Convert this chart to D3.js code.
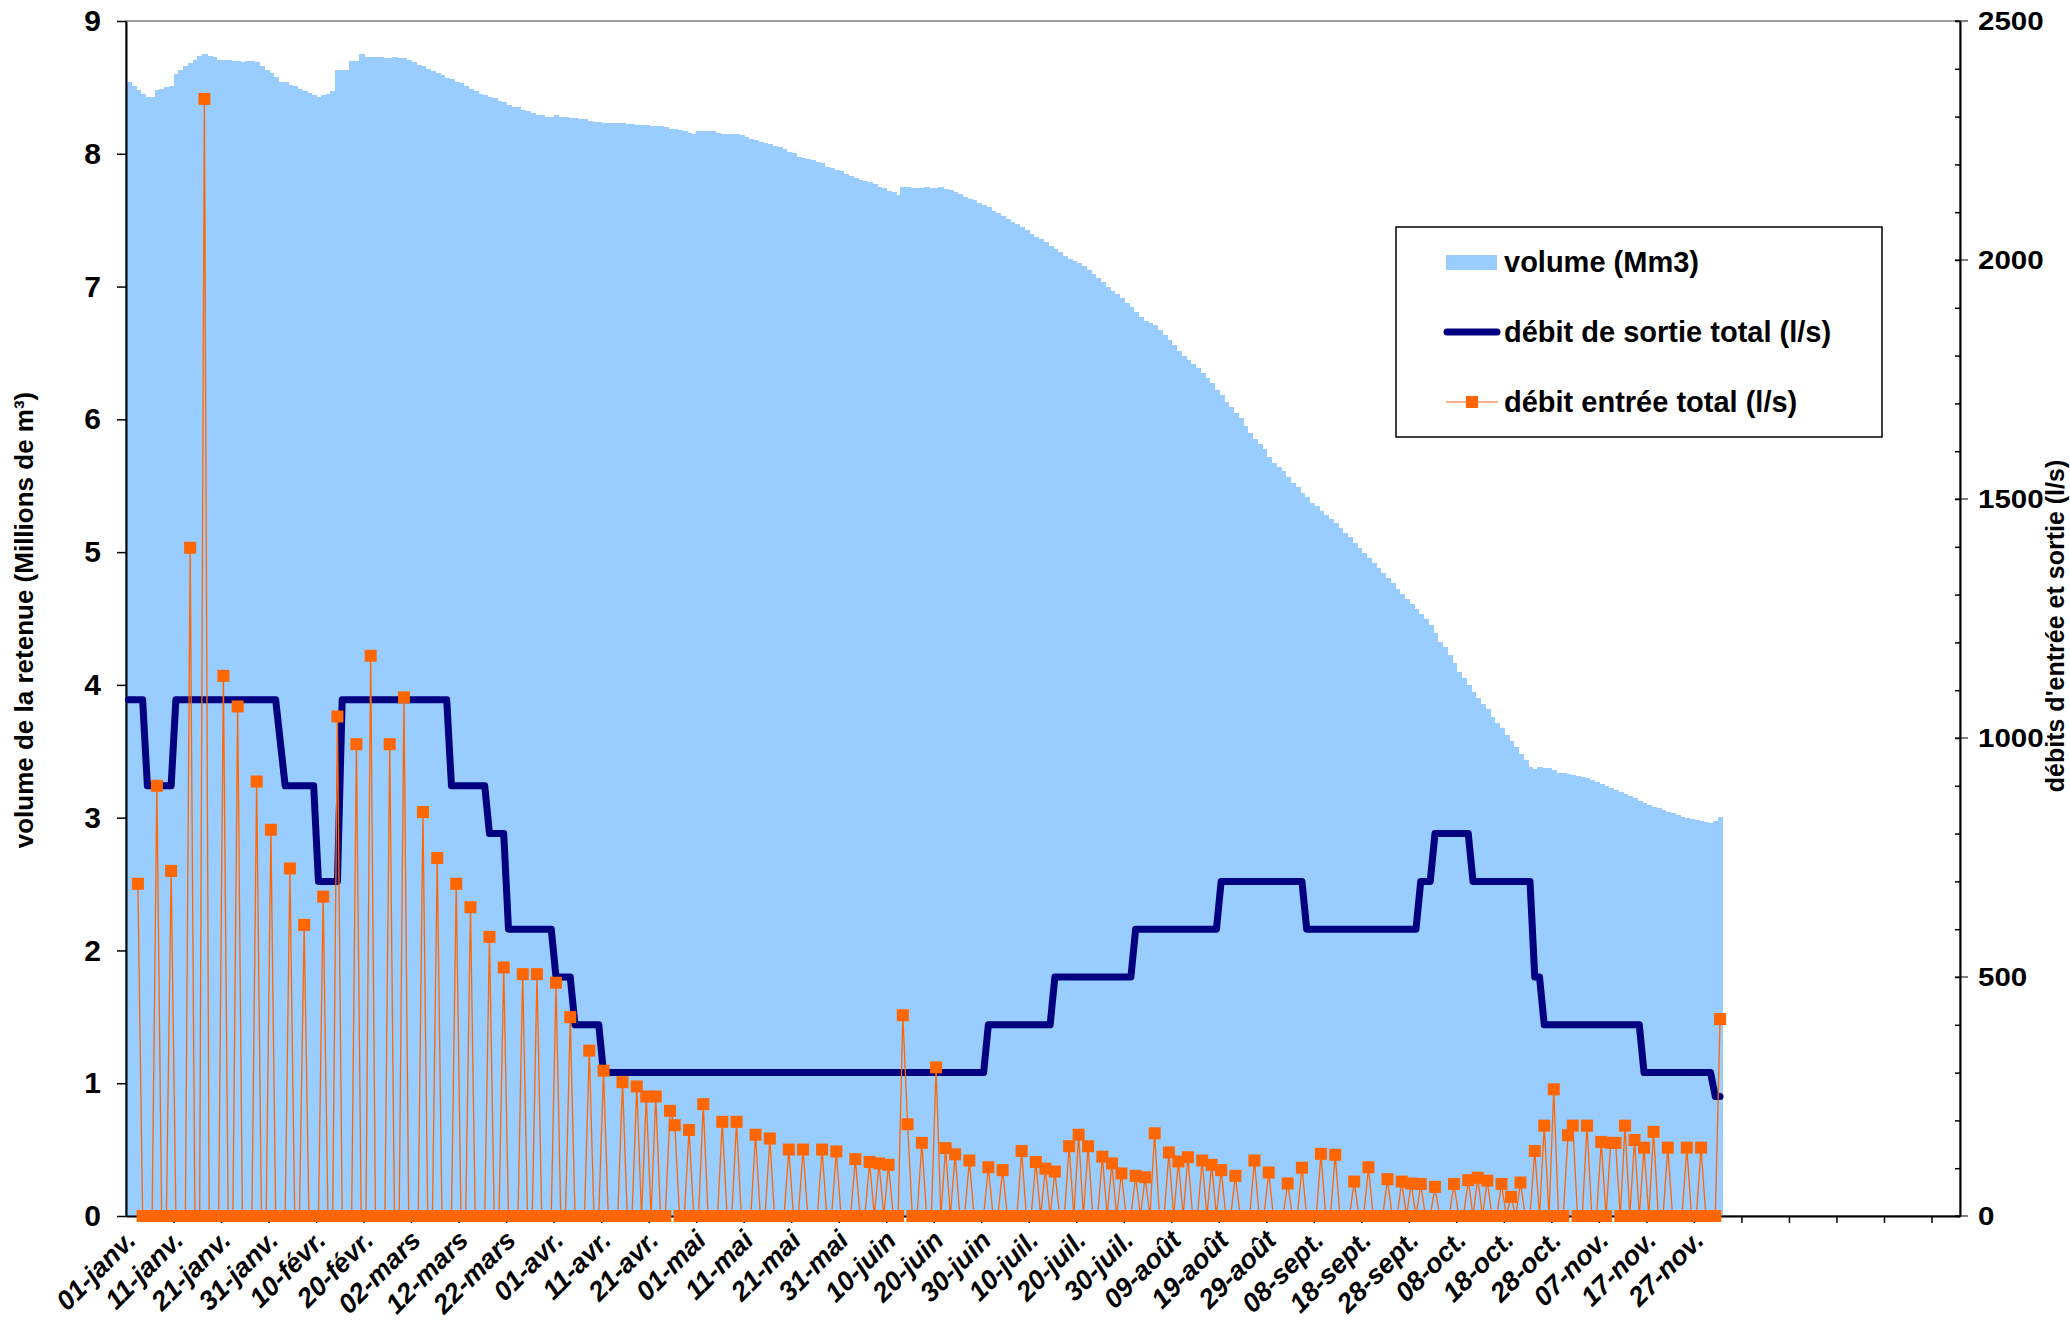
<!DOCTYPE html>
<html>
<head>
<meta charset="utf-8">
<script src="https://cdn.jsdelivr.net/npm/d3@7"></script>
<style>
  body { margin: 0; background: #fff; }
  text { font-family: "Liberation Sans", Arial, sans-serif; font-weight: bold; fill: #000; }
</style>
</head>
<body>
<div id="chart"></div>
<script>
// Category axis: one slot per day, labels every 10 days
const DAY_COUNT = 386;
const TICK_LABELS = ["01-janv.", "11-janv.", "21-janv.", "31-janv.", "10-févr.", "20-févr.", "02-mars", "12-mars",
    "22-mars", "01-avr.", "11-avr.", "21-avr.", "01-mai", "11-mai", "21-mai", "31-mai", "10-juin", "20-juin",
    "30-juin", "10-juil.", "20-juil.", "30-juil.", "09-août", "19-août", "29-août", "08-sept.", "18-sept.",
    "28-sept.", "08-oct.", "18-oct.", "28-oct.", "07-nov.", "17-nov.", "27-nov."];
const LEFT_TICKS = [0, 1, 2, 3, 4, 5, 6, 7, 8, 9];
const RIGHT_MAJOR_TICKS = [0, 500, 1000, 1500, 2000, 2500];

// volume (Mm3), one value per day
const VOLUME = [
    8.54, 8.51, 8.48, 8.45, 8.43, 8.43, 8.48, 8.49, 8.50, 8.51,
    8.60, 8.63, 8.66, 8.68, 8.71, 8.74, 8.75, 8.74, 8.73, 8.71,
    8.71, 8.71, 8.70, 8.70, 8.69, 8.70, 8.70, 8.69, 8.66, 8.63,
    8.61, 8.58, 8.54, 8.54, 8.52, 8.51, 8.49, 8.47, 8.46, 8.44,
    8.43, 8.44, 8.45, 8.47, 8.63, 8.63, 8.63, 8.70, 8.70, 8.75,
    8.73, 8.73, 8.73, 8.73, 8.72, 8.72, 8.73, 8.72, 8.72, 8.71,
    8.69, 8.67, 8.66, 8.64, 8.62, 8.61, 8.59, 8.57, 8.56, 8.54,
    8.53, 8.51, 8.49, 8.47, 8.45, 8.44, 8.43, 8.42, 8.40, 8.39,
    8.37, 8.35, 8.35, 8.33, 8.32, 8.31, 8.29, 8.29, 8.28, 8.28,
    8.29, 8.28, 8.28, 8.27, 8.27, 8.26, 8.26, 8.25, 8.24, 8.24,
    8.234, 8.234, 8.234, 8.23, 8.23, 8.224, 8.224, 8.22, 8.22, 8.22,
    8.21, 8.21, 8.21, 8.20, 8.19, 8.185, 8.18, 8.17, 8.16, 8.15,
    8.17, 8.17, 8.17, 8.17, 8.16, 8.15, 8.15, 8.15, 8.15, 8.139,
    8.127, 8.114, 8.104, 8.091, 8.081, 8.071, 8.058, 8.048, 8.033, 8.016,
    8.003, 7.978, 7.970, 7.960, 7.953, 7.935, 7.928, 7.903, 7.890, 7.878,
    7.870, 7.848, 7.833, 7.815, 7.803, 7.795, 7.785, 7.773, 7.753, 7.740,
    7.723, 7.710, 7.690, 7.748, 7.748, 7.743, 7.743, 7.743, 7.750, 7.743,
    7.743, 7.748, 7.738, 7.728, 7.715, 7.695, 7.677, 7.660, 7.652, 7.632,
    7.614, 7.602, 7.572, 7.552, 7.532, 7.512, 7.489, 7.471, 7.451, 7.426,
    7.396, 7.376, 7.356, 7.336, 7.306, 7.286, 7.260, 7.230, 7.208, 7.193,
    7.175, 7.155, 7.125, 7.095, 7.063, 7.037, 7.000, 6.970, 6.945, 6.912,
    6.874, 6.844, 6.812, 6.774, 6.737, 6.724, 6.707, 6.674, 6.637, 6.599,
    6.562, 6.512, 6.474, 6.444, 6.419, 6.386, 6.346, 6.309, 6.271, 6.221,
    6.183, 6.133, 6.090, 6.045, 6.008, 5.950, 5.895, 5.850, 5.814, 5.774,
    5.714, 5.674, 5.643, 5.613, 5.568, 5.518, 5.488, 5.448, 5.418, 5.373,
    5.348, 5.312, 5.280, 5.247, 5.217, 5.179, 5.147, 5.111, 5.071, 5.029,
    4.991, 4.953, 4.916, 4.878, 4.845, 4.803, 4.765, 4.720, 4.685, 4.645,
    4.609, 4.569, 4.534, 4.494, 4.451, 4.389, 4.326, 4.288, 4.225, 4.168,
    4.100, 4.050, 4.000, 3.949, 3.899, 3.856, 3.816, 3.761, 3.710, 3.673,
    3.622, 3.580, 3.535, 3.479, 3.434, 3.384, 3.364, 3.384, 3.376, 3.371,
    3.358, 3.338, 3.333, 3.328, 3.321, 3.313, 3.303, 3.295, 3.283, 3.270,
    3.253, 3.238, 3.220, 3.208, 3.190, 3.175, 3.163, 3.145, 3.128, 3.108,
    3.095, 3.082, 3.070, 3.057, 3.045, 3.032, 3.020, 3.007, 2.995, 2.987,
    2.982, 2.975, 2.967, 2.962, 2.977, 3.007
];

// débit de sortie total (l/s), one value per day
const OUTFLOW = [
    1080, 1080, 1080, 1080, 900, 900, 900, 900, 900, 900,
    1080, 1080, 1080, 1080, 1080, 1080, 1080, 1080, 1080, 1080,
    1080, 1080, 1080, 1080, 1080, 1080, 1080, 1080, 1080, 1080,
    1080, 1080, 990, 900, 900, 900, 900, 900, 900, 900,
    700, 700, 700, 700, 700, 1080, 1080, 1080, 1080, 1080,
    1080, 1080, 1080, 1080, 1080, 1080, 1080, 1080, 1080, 1080,
    1080, 1080, 1080, 1080, 1080, 1080, 1080, 1080, 900, 900,
    900, 900, 900, 900, 900, 900, 800, 800, 800, 800,
    600, 600, 600, 600, 600, 600, 600, 600, 600, 600,
    500, 500, 500, 500, 400, 400, 400, 400, 400, 400,
    300, 300, 300, 300, 300, 300, 300, 300, 300, 300,
    300, 300, 300, 300, 300, 300, 300, 300, 300, 300,
    300, 300, 300, 300, 300, 300, 300, 300, 300, 300,
    300, 300, 300, 300, 300, 300, 300, 300, 300, 300,
    300, 300, 300, 300, 300, 300, 300, 300, 300, 300,
    300, 300, 300, 300, 300, 300, 300, 300, 300, 300,
    300, 300, 300, 300, 300, 300, 300, 300, 300, 300,
    300, 300, 300, 300, 300, 300, 300, 300, 300, 300,
    300, 400, 400, 400, 400, 400, 400, 400, 400, 400,
    400, 400, 400, 400, 400, 500, 500, 500, 500, 500,
    500, 500, 500, 500, 500, 500, 500, 500, 500, 500,
    500, 500, 600, 600, 600, 600, 600, 600, 600, 600,
    600, 600, 600, 600, 600, 600, 600, 600, 600, 600,
    700, 700, 700, 700, 700, 700, 700, 700, 700, 700,
    700, 700, 700, 700, 700, 700, 700, 700, 600, 600,
    600, 600, 600, 600, 600, 600, 600, 600, 600, 600,
    600, 600, 600, 600, 600, 600, 600, 600, 600, 600,
    600, 600, 700, 700, 700, 800, 800, 800, 800, 800,
    800, 800, 800, 700, 700, 700, 700, 700, 700, 700,
    700, 700, 700, 700, 700, 700, 500, 500, 400, 400,
    400, 400, 400, 400, 400, 400, 400, 400, 400, 400,
    400, 400, 400, 400, 400, 400, 400, 400, 400, 300,
    300, 300, 300, 300, 300, 300, 300, 300, 300, 300,
    300, 300, 300, 300, 250, 250
];

// débit entrée total (l/s), one value per day (null = no reading)
const INFLOW = [
    null, null, 695, 0, 0, 0, 900, 0, 0, 722,
    0, 0, 0, 1398, 0, 0, 2337, 0, 0, 0,
    1130, 0, 0, 1066, 0, 0, 0, 909, 0, 0,
    808, 0, 0, 0, 727, 0, 0, 609, 0, 0,
    0, 668, 0, 0, 1045, 0, 0, 0, 987, 0,
    0, 1172, 0, 0, 0, 987, 0, 0, 1085, 0,
    0, 0, 845, 0, 0, 749, 0, 0, 0, 695,
    0, 0, 646, 0, 0, 0, 584, 0, 0, 520,
    0, 0, 0, 506, 0, 0, 506, 0, 0, 0,
    488, 0, 0, 416, 0, 0, 0, 346, 0, 0,
    304, 0, 0, 0, 280, 0, 0, 271, 0, 250,
    0, 250, 0, 0, 220, 190, 0, 0, 180, 0,
    0, 234, 0, 0, 0, 197, 0, 0, 197, 0,
    0, 0, 170, 0, 0, 162, 0, 0, 0, 139,
    0, 0, 139, 0, 0, 0, 139, 0, 0, 135,
    0, 0, 0, 119, 0, 0, 113, 0, 110, 0,
    107, 0, 0, 420, 192, 0, 0, 153, 0, 0,
    311, 0, 142, 0, 129, 0, 0, 116, 0, 0,
    0, 102, 0, 0, 96, 0, 0, 0, 136, 0,
    0, 113, 0, 99, 0, 93, 0, 0, 146, 0,
    170, 0, 146, 0, 0, 124, 0, 110, 0, 89,
    0, 0, 84, 0, 81, 0, 173, 0, 0, 133,
    0, 114, 0, 123, 0, 0, 116, 0, 107, 0,
    96, 0, 0, 84, 0, 0, 0, 116, 0, 0,
    91, 0, 0, 0, 68, 0, 0, 101, 0, 0,
    0, 130, 0, 0, 128, 0, 0, 0, 72, 0,
    0, 102, 0, 0, 0, 77, 0, 0, 72, 0,
    68, 0, 67, 0, 0, 61, 0, 0, 0, 67,
    0, 0, 75, 0, 80, 0, 74, 0, 0, 67,
    0, 40, 0, 70, 0, 0, 136, 0, 189, 0,
    265, 0, 0, 169, 189, 0, 0, 189, 0, 0,
    155, 0, 153, 153, 0, 189, 0, 159, 0, 143,
    0, 176, 0, 0, 143, 0, 0, 0, 143, 0,
    0, 143, 0, 0, 0, 412
];

const LEGEND_LABELS = ["volume (Mm3)", "débit de sortie total (l/s)", "débit entrée total (l/s)"];

const width = 2070, height = 1322;
const margin = {top: 21, right: 110, bottom: 106, left: 126};
const innerW = width - margin.left - margin.right;
const innerH = height - margin.top - margin.bottom;

const svg = d3.select('#chart').append('svg')
    .attr('width', width)
    .attr('height', height);

svg.append('rect').attr('width', width).attr('height', height).attr('fill', '#fff');

const g = svg.append('g')
    .attr('transform', `translate(${margin.left},${margin.top})`);

// Scales
const x = d3.scaleBand().domain(d3.range(DAY_COUNT)).range([0, innerW]).padding(0);
const xEdge = d3.scaleLinear().domain([0, DAY_COUNT]).range([0, innerW]);
const yLeft = d3.scaleLinear().domain([0, 9]).range([innerH, 0]);
const yRight = d3.scaleLinear().domain([0, 2500]).range([innerH, 0]);
const cx = i => x(i) + x.bandwidth() / 2;

// Plot frame
g.append('rect')
    .attr('width', innerW)
    .attr('height', innerH)
    .attr('fill', 'none')
    .attr('stroke', '#808080')
    .attr('stroke-width', 1.5);

// Volume bars
g.append('g').selectAll('rect')
    .data(VOLUME)
    .join('rect')
    .attr('x', (d, i) => x(i))
    .attr('width', x.bandwidth() + 1)
    .attr('y', d => yLeft(d))
    .attr('height', d => innerH - yLeft(d))
    .attr('fill', '#99CCFF')
    .attr('shape-rendering', 'crispEdges');

// Left axis
const leftAxis = g.append('g')
    .call(d3.axisLeft(yLeft).tickValues(LEFT_TICKS).tickSize(9).tickSizeOuter(0).tickPadding(16));
leftAxis.selectAll('text').style('font-size', '30px');

// Bottom axis: ticks between every 10 days
const bottomAxis = g.append('g')
    .attr('transform', `translate(0,${innerH})`)
    .call(d3.axisBottom(xEdge).tickValues(d3.range(10, DAY_COUNT, 10)).tickSize(7).tickSizeOuter(0).tickFormat(''));

g.append('g').selectAll('text')
    .data(TICK_LABELS)
    .join('text')
    .attr('transform', (d, i) => `translate(${cx(i * 10) + 9},${innerH + 26}) rotate(-45)`)
    .attr('text-anchor', 'end')
    .style('font-style', 'italic')
    .style('font-size', '27px')
    .text(d => d);

// Right axis: minor ticks inside, major ticks crossing
const rightAxis = g.append('g')
    .attr('transform', `translate(${innerW},0)`)
    .call(d3.axisRight(yRight).tickValues(d3.range(0, 2501, 100)).tickSizeInner(-5).tickSizeOuter(0).tickFormat(''));

rightAxis.selectAll('.major')
    .data(RIGHT_MAJOR_TICKS)
    .join('line')
    .attr('class', 'major')
    .attr('x1', -5).attr('x2', 8)
    .attr('y1', d => yRight(d)).attr('y2', d => yRight(d))
    .attr('stroke', '#000');

rightAxis.selectAll('.rlabel')
    .data(RIGHT_MAJOR_TICKS)
    .join('text')
    .attr('class', 'rlabel')
    .attr('transform', d => `translate(18,${yRight(d)}) scale(1.18,1)`)
    .attr('dy', '0.36em')
    .style('font-size', '25px')
    .text(d => d);

[leftAxis, bottomAxis, rightAxis].forEach(a => {
    a.select('.domain').attr('stroke', '#000').attr('stroke-width', 2);
    a.selectAll('.tick line').attr('stroke', '#000').attr('stroke-width', 1.5);
});

// Axis titles
svg.append('text')
    .attr('transform', `translate(24,620) rotate(-90)`)
    .attr('text-anchor', 'middle')
    .attr('dy', '0.35em')
    .style('font-size', '26px')
    .text('volume de la retenue (Millions de m³)');

svg.append('text')
    .attr('transform', `translate(2055,626) rotate(-90)`)
    .attr('text-anchor', 'middle')
    .attr('dy', '0.35em')
    .style('font-size', '25px')
    .text("débits d'entrée et sortie (l/s)");

// Outflow step line
const outLine = d3.line()
    .x((d, i) => cx(i))
    .y(d => yRight(d));

g.append('path')
    .datum(OUTFLOW)
    .attr('d', outLine)
    .attr('fill', 'none')
    .attr('stroke', '#000080')
    .attr('stroke-width', 7)
    .attr('stroke-linejoin', 'round')
    .attr('stroke-linecap', 'round');

// Inflow line with square markers
const inLine = d3.line()
    .defined(d => d !== null)
    .x((d, i) => cx(i))
    .y(d => yRight(d));

g.append('path')
    .datum(INFLOW)
    .attr('d', inLine)
    .attr('fill', 'none')
    .attr('stroke', '#FF6600')
    .attr('stroke-width', 1.3);

const markerSize = 12;
g.append('g').selectAll('rect')
    .data(INFLOW.map((v, i) => ({v, i})).filter(d => d.v !== null))
    .join('rect')
    .attr('x', d => cx(d.i) - markerSize / 2)
    .attr('y', d => yRight(d.v) - markerSize / 2)
    .attr('width', markerSize)
    .attr('height', markerSize)
    .attr('fill', '#FF6600');

// Legend
const legend = svg.append('g').attr('transform', 'translate(1396,227)');
legend.append('rect')
    .attr('width', 486)
    .attr('height', 210)
    .attr('fill', '#fff')
    .attr('stroke', '#000')
    .attr('stroke-width', 1.5);

legend.append('rect')
    .attr('x', 50).attr('y', 28)
    .attr('width', 51).attr('height', 15)
    .attr('fill', '#99CCFF');

legend.append('line')
    .attr('x1', 51).attr('x2', 101)
    .attr('y1', 105).attr('y2', 105)
    .attr('stroke', '#000080')
    .attr('stroke-width', 7)
    .attr('stroke-linecap', 'round');

legend.append('line')
    .attr('x1', 50).attr('x2', 102)
    .attr('y1', 175).attr('y2', 175)
    .attr('stroke', '#FF9966')
    .attr('stroke-width', 1.5);

legend.append('rect')
    .attr('x', 76 - markerSize / 2).attr('y', 175 - markerSize / 2)
    .attr('width', markerSize).attr('height', markerSize)
    .attr('fill', '#FF6600');

legend.selectAll('.ltext')
    .data(LEGEND_LABELS)
    .join('text')
    .attr('class', 'ltext')
    .attr('x', 108)
    .attr('y', (d, i) => 35 + i * 70)
    .attr('dy', '0.36em')
    .style('font-size', '29px')
    .text(d => d);
</script>
</body>
</html>
